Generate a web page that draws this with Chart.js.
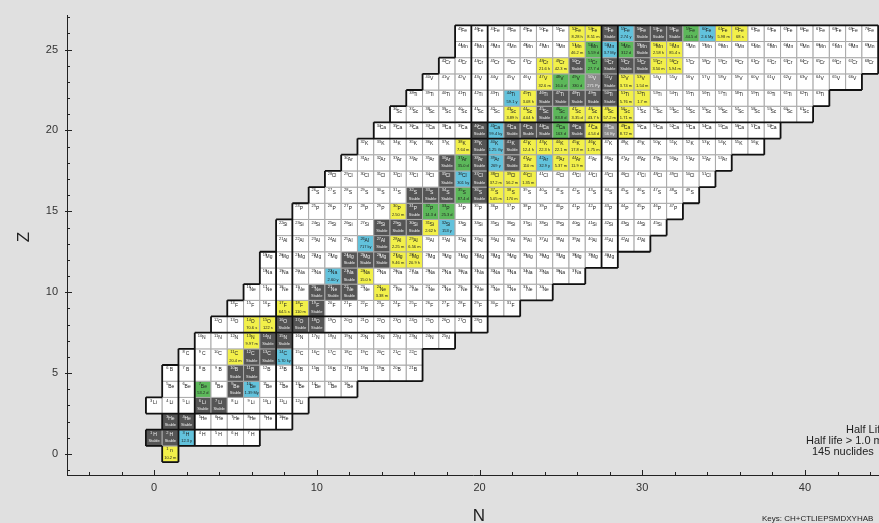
<!DOCTYPE html>
<html>
<head>
<meta charset="utf-8">
<script src="https://cdn.jsdelivr.net/npm/chart.js@4.4.1/dist/chart.umd.min.js"></script>
<style>
  html, body { margin: 0; padding: 0; background: #e0e0e0; }
  canvas { display: block; }
</style>
</head>
<body>
<canvas id="chart" width="879" height="523"></canvas>
<script>
// element symbols by Z
const elements = ['n', 'H', 'He', 'Li', 'Be', 'B', 'C', 'N', 'O', 'F', 'Ne', 'Na', 'Mg',
  'Al', 'Si', 'P', 'S', 'Cl', 'Ar', 'K', 'Ca', 'Sc', 'Ti', 'V', 'Cr', 'Mn', 'Fe'];

// one row per Z : first N of the row, then one code per cell
// s stable, y 1 min - 5 d, g 5 d - 1 y, c 1 y - 1e10 y, m longer, w shorter than 1 min
const rowZ = [0, 1, 2, 3, 4, 5, 6, 7, 8, 9, 10, 11, 12, 13, 14, 15, 16, 17, 18, 19, 20, 21, 22, 23, 24, 25, 26];
const rowNStart = [1, 0, 1, 0, 1, 1, 2, 3, 4, 5, 6, 7, 7, 8, 8, 9, 10, 11, 12, 13, 14, 15, 16, 17, 18, 19, 19];
const rowCodes = [
  'y',
  'sscwwww',
  'sswwwwww',
  'wwwsswwwww',
  'wwgwscwwwwww',
  'wwwwss' + 'wwwwwwwwww',
  'wwwyssc' + 'wwwwwwww',
  'wwwyss' + 'wwwwwwwwww',
  'wwyysss' + 'wwwwwwwwww',
  'wwwyys' + 'wwwwwwwwwwww',
  'wwwwssswy' + 'wwwwwwwwww',
  'wwwwcsy' + 'wwwwwwwwwwwww',
  'wwwwwsssyy' + 'wwwwwwwwwwww',
  'wwwwwcsyy' + 'wwwwwwwwwwwwww',
  'wwwwwwsssyc' + 'wwwwwwwwwwwww',
  'wwwwwwysgg' + 'wwwwwwwwwwwwww',
  'wwwwwwsssgsyy' + 'wwwwwwwwwww',
  'wwwwwwwscsyyy' + 'wwwwwwwwwww',
  'wwwwwwsgscsycyy' + 'wwwwwwwww',
  'wwwwwwyscsyyyyy' + 'wwwwwwwwww',
  'wwwwwwscsssgsymy' + 'wwwwwwwww',
  'wwwwwwwyysgyyyy' + 'wwwwwwwwwww',
  'wwwwwwcysssssyy' + 'wwwwwwwwwww',
  'wwwwwwwyggmsyy' + 'wwwwwwwwwwwww',
  'wwwwwwyysgsssyy' + 'wwwwwwwwwwww',
  'wwwwwwwygcgsyy' + 'wwwwwwwwwwww',
  'wwwwwwwyyscsssgcyy' + 'wwwwwwww'
];

// half lives of the coloured radioactive cells
const halfLives = {
  '1n': '10.2 m', '3H': '12.3 y', '7Be': '53.2 d', '10Be': '1.39 My', '11C': '20.4 m',
  '14C': '5.70 ky', '13N': '9.97 m', '14O': '70.6 s', '15O': '122 s', '17F': '64.5 s',
  '18F': '110 m', '24Ne': '3.38 m', '22Na': '2.60 y', '24Na': '15.0 h', '27Mg': '9.46 m',
  '28Mg': '20.9 h', '26Al': '717 ky', '28Al': '2.25 m', '29Al': '6.56 m', '31Si': '2.62 h',
  '32Si': '153 y', '30P': '2.50 m', '32P': '14.3 d', '33P': '25.3 d', '35S': '87.4 d',
  '37S': '5.05 m', '38S': '170 m', '36Cl': '301 ky', '38Cl': '37.2 m', '39Cl': '56.2 m',
  '40Cl': '1.35 m', '37Ar': '35.0 d', '39Ar': '269 y', '41Ar': '110 m', '42Ar': '32.9 y',
  '43Ar': '5.37 m', '44Ar': '11.9 m', '38K': '7.64 m', '40K': '1.25 Gy', '42K': '12.4 h',
  '43K': '22.3 h', '44K': '22.1 m', '45K': '17.8 m', '46K': '1.75 m', '41Ca': '99.4 ky',
  '45Ca': '163 d', '47Ca': '4.54 d', '48Ca': '56 Ey', '49Ca': '8.72 m', '43Sc': '3.89 h',
  '44Sc': '4.04 h', '46Sc': '83.8 d', '47Sc': '3.35 d', '48Sc': '43.7 h', '49Sc': '57.2 m',
  '50Sc': '1.71 m', '44Ti': '59.1 y', '45Ti': '3.08 h', '51Ti': '5.76 m', '52Ti': '1.7 m',
  '47V': '32.6 m', '48V': '16.0 d', '49V': '330 d', '50V': '271 Py', '52V': '3.74 m',
  '53V': '1.54 m', '48Cr': '21.6 h', '49Cr': '42.3 m', '51Cr': '27.7 d', '55Cr': '3.50 m',
  '56Cr': '5.94 m', '51Mn': '46.2 m', '52Mn': '5.59 d', '53Mn': '3.7 My', '54Mn': '312 d',
  '56Mn': '2.58 h', '57Mn': '85.4 s', '52Fe': '8.28 h', '53Fe': '8.51 m', '55Fe': '2.74 y',
  '59Fe': '44.5 d', '60Fe': '2.6 My', '61Fe': '5.98 m', '62Fe': '68 s'
};

const magicNumbers = [2, 8, 20, 28];
const xTickValues = [0, 10, 20, 30, 40];
const yTickValues = [0, 5, 10, 15, 20, 25];
const legendLines = ['Half Life', 'Half life > 1.0 min', '145 nuclides'];
const keysText = 'Keys: CH+CTLIEPSMDXYHAB';

const fills = { w: '#ffffff', s: '#555555', y: '#f2f04a', g: '#5cb85a', c: '#62c2dc', m: '#8a8a8a' };
const FONT = "'Liberation Sans', Arial, sans-serif";

const cells = [];
rowZ.forEach((z, i) => {
  for (let j = 0; j < rowCodes[i].length; j++) {
    cells.push({ x: rowNStart[i] + j, y: z, code: rowCodes[i][j] });
  }
});
const have = new Set(cells.map(c => c.x + ',' + c.y));

const cellSide = (chart) => {
  const s = chart.scales.x;
  return Math.abs(s.getPixelForValue(1) - s.getPixelForValue(0));
};

const nuclidePlugin = {
  id: 'nuclides',
  beforeDraw(chart) {
    const ctx = chart.ctx;
    ctx.save();
    ctx.fillStyle = '#e0e0e0';
    ctx.fillRect(0, 0, chart.width, chart.height);
    ctx.restore();
  },
  afterDatasetsDraw(chart) {
    const { ctx, chartArea: a, scales: { x, y } } = chart;
    ctx.save();
    ctx.beginPath();
    ctx.rect(a.left, a.top, a.right - a.left, a.bottom - a.top);
    ctx.clip();

    // labels inside the cells
    ctx.textAlign = 'center';
    ctx.textBaseline = 'middle';
    cells.forEach(c => {
      const px = x.getPixelForValue(c.x);
      const py = y.getPixelForValue(c.y);
      const A = c.x + c.y;
      const sym = elements[c.y];
      const dark = c.code === 's' || c.code === 'm';
      ctx.fillStyle = dark ? '#f0f0f0' : '#222';
      ctx.font = '4px ' + FONT;
      ctx.fillText(String(A), px - 3, py - 5);
      ctx.font = '5px ' + FONT;
      ctx.fillText(sym, px + 1, py - 3);
      let hl = c.code === 's' ? 'Stable' : halfLives[A + sym];
      if (hl) {
        ctx.font = '4px ' + FONT;
        ctx.fillText(hl, px, py + 3.5);
      }
    });

    // outline of the chart and magic rows / columns
    ctx.strokeStyle = '#111';
    ctx.lineWidth = 1.8;
    ctx.beginPath();
    cells.forEach(c => {
      const l = x.getPixelForValue(c.x - 0.5), r = x.getPixelForValue(c.x + 0.5);
      const t = y.getPixelForValue(c.y + 0.5), b = y.getPixelForValue(c.y - 0.5);
      const magicZ = magicNumbers.includes(c.y);
      const magicN = magicNumbers.includes(c.x);
      if (!have.has((c.x - 1) + ',' + c.y) || magicN) { ctx.moveTo(l, t); ctx.lineTo(l, b); }
      if (!have.has((c.x + 1) + ',' + c.y) || magicN) { ctx.moveTo(r, t); ctx.lineTo(r, b); }
      if (!have.has(c.x + ',' + (c.y + 1)) || magicZ) { ctx.moveTo(l, t); ctx.lineTo(r, t); }
      if (!have.has(c.x + ',' + (c.y - 1)) || magicZ) { ctx.moveTo(l, b); ctx.lineTo(r, b); }
    });
    ctx.stroke();
    ctx.restore();
  },
  afterDraw(chart) {
    const { ctx, chartArea: a, scales: { x, y } } = chart;
    ctx.save();
    // inward ticks
    ctx.strokeStyle = '#222';
    ctx.lineWidth = 1;
    ctx.beginPath();
    for (let v = Math.ceil(x.min / 2) * 2; v <= x.max; v += 2) {
      const px = Math.round(x.getPixelForValue(v)) + 0.5;
      const len = v % 10 === 0 ? 5 : 3;
      ctx.moveTo(px, a.bottom);
      ctx.lineTo(px, a.bottom - len);
    }
    for (let v = Math.ceil(y.min); v <= y.max; v += 1) {
      const py = Math.round(y.getPixelForValue(v)) + 0.5;
      const len = v % 5 === 0 ? 5 : 3;
      ctx.moveTo(a.left - (v % 5 === 0 ? 2 : 0), py);
      ctx.lineTo(a.left + len, py);
    }
    ctx.stroke();

    // axis titles
    ctx.fillStyle = '#222';
    ctx.font = '17px ' + FONT;
    ctx.textAlign = 'center';
    ctx.textBaseline = 'middle';
    ctx.fillText('N', 479, 516);
    ctx.save();
    ctx.translate(24, 237);
    ctx.rotate(-Math.PI / 2);
    ctx.fillText('Z', 0, 0);
    ctx.restore();

    // legend text
    ctx.font = '11px ' + FONT;
    ctx.textAlign = 'left';
    ctx.fillText(legendLines[0], 846, 430);
    ctx.fillText(legendLines[1], 806, 441);
    ctx.fillText(legendLines[2], 812, 452);
    ctx.font = '8px ' + FONT;
    ctx.fillText(keysText, 762, 519);
    ctx.restore();
  }
};

new Chart(document.getElementById('chart'), {
  type: 'scatter',
  data: {
    datasets: [{
      data: cells,
      pointStyle: 'rect',
      pointRadius: (c) => cellSide(c.chart) / Math.SQRT2,
      pointHoverRadius: (c) => cellSide(c.chart) / Math.SQRT2,
      pointBackgroundColor: (c) => fills[c.raw ? c.raw.code : 'w'],
      pointBorderColor: '#a8a8a8',
      pointBorderWidth: 1
    }]
  },
  options: {
    responsive: false,
    animation: false,
    devicePixelRatio: 1,
    events: [],
    layout: { padding: { top: 15, right: 0, left: 0, bottom: 0 } },
    plugins: { legend: { display: false }, tooltip: { enabled: false } },
    scales: {
      x: {
        type: 'linear',
        min: -5.35,
        max: 44.55,
        afterFit: (s) => { s.height = 48; },
        afterBuildTicks: (s) => { s.ticks = xTickValues.map(v => ({ value: v })); },
        grid: { drawOnChartArea: false, drawTicks: false },
        border: { display: true, color: '#222', width: 1 },
        ticks: { autoSkip: false, maxRotation: 0, padding: 6, color: '#333', font: { size: 11, family: FONT } }
      },
      y: {
        type: 'linear',
        min: -1.3,
        max: 27.1,
        afterFit: (s) => { s.width = 67; },
        afterBuildTicks: (s) => { s.ticks = yTickValues.map(v => ({ value: v })); },
        grid: { drawOnChartArea: false, drawTicks: false },
        border: { display: true, color: '#222', width: 1 },
        ticks: { autoSkip: false, padding: 9, color: '#333', font: { size: 11, family: FONT } }
      }
    }
  },
  plugins: [nuclidePlugin]
});
</script>
</body>
</html>
